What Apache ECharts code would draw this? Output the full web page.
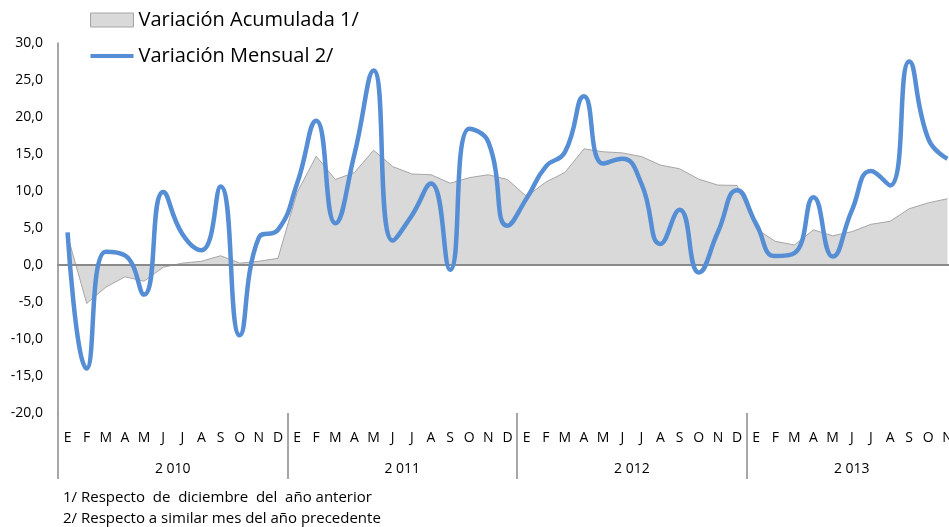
<!DOCTYPE html>
<html>
<head>
<meta charset="utf-8">
<script src="https://cdn.jsdelivr.net/npm/echarts@6/dist/echarts.min.js"></script>
<style>
html,body{margin:0;padding:0;background:#fff;}
#chart{width:949px;height:527px;}
</style>
</head>
<body>
<div id="chart"></div>
<script>
// ---- data ----
var monthAbbr = ['E','F','M','A','M','J','J','A','S','O','N','D'];
var years = ['2010','2011','2012','2013'];
var yearLabels = ['2 010','2 011','2 012','2 013'];
var yearMonths = [12, 12, 12, 11];

var acumulada = [4.0, -5.2, -3.0, -1.6, -2.2, -0.3, 0.25, 0.5, 1.25, 0.25, 0.5, 0.9,
  9.8, 14.7, 11.55, 12.5, 15.5, 13.3, 12.3, 12.2, 11.05, 11.8, 12.2, 11.55,
  9.25, 11.2, 12.5, 15.7, 15.3, 15.15, 14.65, 13.5, 13.0, 11.6, 10.8, 10.75,
  4.9, 3.2, 2.7, 4.75, 3.95, 4.5, 5.5, 5.9, 7.6, 8.4, 8.95];

var mensual = [4.4, -14.0, 1.8, 1.3, -4.0, 9.85, 4.2, 2.0, 10.6, -9.5, 3.7, 4.75,
  11.0, 19.5, 5.65, 15.0, 26.3, 3.3, 6.7, 11.0, -0.65, 18.4, 16.6, 5.3,
  9.0, 13.3, 15.25, 22.8, 13.7, 14.35, 11.0, 2.85, 7.45, -1.0, 4.45, 10.1,
  5.55, 1.2, 1.6, 9.15, 1.15, 7.35, 12.7, 10.75, 27.5, 17.05, 14.35];

var footnotes = ['1/ Respecto  de  diciembre  del  año anterior',
                 '2/ Respecto a similar mes del año precedente'];

// ---- derived ----
var categories = [];
var yearStarts = [];
var yearCenters = [];
var count = 0;
for (var y = 0; y < years.length; y++) {
  yearStarts.push(count);
  yearCenters.push(count + yearMonths[y] / 2);
  for (var m = 0; m < yearMonths[y]; m++) {
    categories.push(monthAbbr[m] + ' ' + years[y]);
  }
  count += yearMonths[y];
}

var FONT = '"Open Sans", sans-serif';
var AXIS_GRAY = '#8a8a8a';

var chart = echarts.init(document.getElementById('chart'), null, {renderer: 'canvas'});
chart.setOption({
  animation: false,
  backgroundColor: '#fff',
  textStyle: {fontFamily: FONT},
  grid: {left: 58, top: 43, height: 370, width: 899, containLabel: false, outerBoundsMode: 'none'},
  legend: {
    orient: 'vertical',
    left: 90,
    top: 10,
    padding: 0,
    itemWidth: 43,
    itemHeight: 14,
    itemGap: 16,
    textStyle: {fontSize: 20, color: '#000', fontFamily: FONT},
    data: [
      {name: 'Variación Acumulada 1/', icon: 'rect',
       itemStyle: {color: '#d9d9d9', borderColor: '#a6a6a6', borderWidth: 1}},
      {name: 'Variación Mensual 2/', icon: 'path://M0,0L43,0L43,4L0,4Z'}
    ]
  },
  xAxis: [
    {
      type: 'category', data: categories, boundaryGap: true, z: 2,
      axisLine: {show: true, onZero: true, lineStyle: {color: AXIS_GRAY, width: 2}},
      axisTick: {show: false}, axisLabel: {show: false}, splitLine: {show: false}
    },
    {
      type: 'category', data: categories, boundaryGap: true, position: 'bottom',
      axisLine: {show: false, onZero: false},
      axisTick: {show: false},
      axisLabel: {show: true, interval: 0, margin: 18, fontSize: 14, color: '#000', fontFamily: FONT,
        formatter: function (v) { return v.split(' ')[0]; }},
      splitLine: {show: false}
    },
    {
      type: 'value', min: 0, max: count, position: 'bottom',
      axisLine: {show: false, onZero: false},
      splitLine: {show: false},
      axisTick: {show: true, customValues: yearStarts, length: 66, inside: false,
        lineStyle: {color: AXIS_GRAY, width: 1.5}},
      axisLabel: {show: true, customValues: yearCenters, margin: 49, fontSize: 14, color: '#000', fontFamily: FONT,
        formatter: function (v) {
          var i = yearCenters.indexOf(v);
          return i >= 0 ? yearLabels[i] : '';
        }}
    }
  ],
  yAxis: {
    type: 'value', min: -20, max: 30, interval: 5,
    axisLine: {show: true, lineStyle: {color: AXIS_GRAY, width: 1.5}},
    axisTick: {show: false},
    splitLine: {show: false},
    axisLabel: {fontSize: 14, color: '#000', margin: 15, fontFamily: FONT,
      formatter: function (v) { return v.toFixed(1).replace('.', ','); }}
  },
  series: [
    {
      name: 'Variación Acumulada 1/', type: 'line', xAxisIndex: 0, data: acumulada,
      symbol: 'none', z: 1,
      itemStyle: {color: '#d9d9d9'},
      lineStyle: {color: '#a6a6a6', width: 1},
      areaStyle: {color: '#d9d9d9', opacity: 1}
    },
    {
      name: 'Variación Mensual 2/', type: 'line', xAxisIndex: 0, data: mensual,
      symbol: 'none', smooth: 0.5, z: 3,
      itemStyle: {color: '#558ed5'},
      lineStyle: {color: '#558ed5', width: 4.5}
    }
  ],
  graphic: [
    {type: 'text', left: 63, top: 490, style: {text: footnotes[0], font: '15px ' + FONT, fill: '#000'}},
    {type: 'text', left: 63, top: 511, style: {text: footnotes[1], font: '15px ' + FONT, fill: '#000'}}
  ]
});
</script>
</body>
</html>
